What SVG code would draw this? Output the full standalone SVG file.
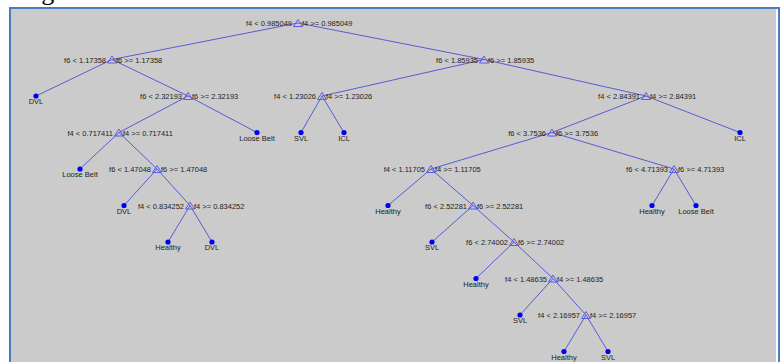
<svg xmlns="http://www.w3.org/2000/svg" width="780" height="362" viewBox="0 0 780 362">
<style>
.bg{fill:#ffffff}
.panel{fill:#cbcbcb}
.frame{stroke:#4a7ebb;stroke-width:2;fill:none}
.edge{stroke:#5a5ad8;stroke-width:1;fill:none}
.tri{fill:none;stroke:#5a5ae6;stroke-width:1}
.leaf{fill:#0000f0}
text{font-family:"Liberation Sans",Arial,sans-serif;font-size:7.5px;fill:#1e1e1e}
.l{text-anchor:end}
.c{text-anchor:middle}
.title{font-family:"Liberation Serif","Times New Roman",serif;font-size:26px;fill:#000}
</style>
<defs>
<path id="t" d="M-4.5,3.5 L0,-3.5 L4.5,3.5 Z"/>
</defs>
<rect class="bg" x="0" y="0" width="780" height="362"/>
<text class="title" x="21" y="-0.5">higher?</text>
<rect class="panel" x="11" y="9" width="765" height="353"/>
<path class="frame" d="M10,362 V8 H779 V362"/>
<g id="connectors">
<line class="edge" x1="298" y1="23" x2="112" y2="59.5"/>
<line class="edge" x1="298" y1="23" x2="484" y2="59.5"/>
<line class="edge" x1="112" y1="59.5" x2="36" y2="96"/>
<line class="edge" x1="112" y1="59.5" x2="188" y2="96"/>
<line class="edge" x1="188" y1="96" x2="119" y2="132.5"/>
<line class="edge" x1="188" y1="96" x2="257" y2="132.5"/>
<line class="edge" x1="484" y1="59.5" x2="322" y2="96"/>
<line class="edge" x1="484" y1="59.5" x2="646" y2="96"/>
<line class="edge" x1="322" y1="96" x2="301" y2="132.5"/>
<line class="edge" x1="322" y1="96" x2="344" y2="132.5"/>
<line class="edge" x1="646" y1="96" x2="552" y2="132.5"/>
<line class="edge" x1="646" y1="96" x2="740" y2="132.5"/>
<line class="edge" x1="119" y1="132.5" x2="80" y2="169"/>
<line class="edge" x1="119" y1="132.5" x2="157" y2="169"/>
<line class="edge" x1="157" y1="169" x2="124" y2="205.5"/>
<line class="edge" x1="157" y1="169" x2="190" y2="205.5"/>
<line class="edge" x1="190" y1="205.5" x2="168" y2="242"/>
<line class="edge" x1="190" y1="205.5" x2="212" y2="242"/>
<line class="edge" x1="552" y1="132.5" x2="431" y2="169"/>
<line class="edge" x1="552" y1="132.5" x2="674" y2="169"/>
<line class="edge" x1="431" y1="169" x2="388" y2="205.5"/>
<line class="edge" x1="431" y1="169" x2="473" y2="205.5"/>
<line class="edge" x1="473" y1="205.5" x2="432" y2="242"/>
<line class="edge" x1="473" y1="205.5" x2="514" y2="242"/>
<line class="edge" x1="514" y1="242" x2="476" y2="278.5"/>
<line class="edge" x1="514" y1="242" x2="553" y2="278.5"/>
<line class="edge" x1="553" y1="278.5" x2="520" y2="315"/>
<line class="edge" x1="553" y1="278.5" x2="586" y2="315"/>
<line class="edge" x1="586" y1="315" x2="564" y2="351.5"/>
<line class="edge" x1="586" y1="315" x2="608" y2="351.5"/>
<line class="edge" x1="674" y1="169" x2="652" y2="205.5"/>
<line class="edge" x1="674" y1="169" x2="696" y2="205.5"/>
</g>
<g id="n1" transform="translate(298,23)"><use href="#t" class="tri"/><text class="l" x="-6" y="3">f4 &lt; 0.985049</text><text x="4" y="3">f4 &gt;= 0.985049</text></g>
<g id="n2" transform="translate(112,59.5)"><use href="#t" class="tri"/><text class="l" x="-6" y="3">f6 &lt; 1.17358</text><text x="4" y="3">f6 &gt;= 1.17358</text></g>
<g id="n3" transform="translate(484,59.5)"><use href="#t" class="tri"/><text class="l" x="-6" y="3">f6 &lt; 1.85935</text><text x="4" y="3">f6 &gt;= 1.85935</text></g>
<g id="n4" transform="translate(188,96)"><use href="#t" class="tri"/><text class="l" x="-6" y="3">f6 &lt; 2.32193</text><text x="4" y="3">f6 &gt;= 2.32193</text></g>
<g id="n5" transform="translate(322,96)"><use href="#t" class="tri"/><text class="l" x="-6" y="3">f4 &lt; 1.23026</text><text x="4" y="3">f4 &gt;= 1.23026</text></g>
<g id="n6" transform="translate(646,96)"><use href="#t" class="tri"/><text class="l" x="-6" y="3">f4 &lt; 2.84391</text><text x="4" y="3">f4 &gt;= 2.84391</text></g>
<g id="n7" transform="translate(119,132.5)"><use href="#t" class="tri"/><text class="l" x="-6" y="3">f4 &lt; 0.717411</text><text x="4" y="3">f4 &gt;= 0.717411</text></g>
<g id="n8" transform="translate(552,132.5)"><use href="#t" class="tri"/><text class="l" x="-6" y="3">f6 &lt; 3.7536</text><text x="4" y="3">f6 &gt;= 3.7536</text></g>
<g id="n9" transform="translate(157,169)"><use href="#t" class="tri"/><text class="l" x="-6" y="3">f6 &lt; 1.47048</text><text x="4" y="3">f6 &gt;= 1.47048</text></g>
<g id="n10" transform="translate(431,169)"><use href="#t" class="tri"/><text class="l" x="-6" y="3">f4 &lt; 1.11705</text><text x="4" y="3">f4 &gt;= 1.11705</text></g>
<g id="n11" transform="translate(674,169)"><use href="#t" class="tri"/><text class="l" x="-6" y="3">f6 &lt; 4.71393</text><text x="4" y="3">f6 &gt;= 4.71393</text></g>
<g id="n12" transform="translate(190,205.5)"><use href="#t" class="tri"/><text class="l" x="-6" y="3">f4 &lt; 0.834252</text><text x="4" y="3">f4 &gt;= 0.834252</text></g>
<g id="n13" transform="translate(473,205.5)"><use href="#t" class="tri"/><text class="l" x="-6" y="3">f6 &lt; 2.52281</text><text x="4" y="3">f6 &gt;= 2.52281</text></g>
<g id="n14" transform="translate(514,242)"><use href="#t" class="tri"/><text class="l" x="-6" y="3">f6 &lt; 2.74002</text><text x="4" y="3">f6 &gt;= 2.74002</text></g>
<g id="n15" transform="translate(553,278.5)"><use href="#t" class="tri"/><text class="l" x="-6" y="3">f4 &lt; 1.48635</text><text x="4" y="3">f4 &gt;= 1.48635</text></g>
<g id="n16" transform="translate(586,315)"><use href="#t" class="tri"/><text class="l" x="-6" y="3">f4 &lt; 2.16957</text><text x="4" y="3">f4 &gt;= 2.16957</text></g>
<g id="leaf1" transform="translate(36,96)"><circle class="leaf" r="2.6"/><text class="c" y="8">DVL</text></g>
<g id="leaf2" transform="translate(257,132.5)"><circle class="leaf" r="2.6"/><text class="c" y="8">Loose Belt</text></g>
<g id="leaf3" transform="translate(301,132.5)"><circle class="leaf" r="2.6"/><text class="c" y="8">SVL</text></g>
<g id="leaf4" transform="translate(344,132.5)"><circle class="leaf" r="2.6"/><text class="c" y="8">ICL</text></g>
<g id="leaf5" transform="translate(740,132.5)"><circle class="leaf" r="2.6"/><text class="c" y="8">ICL</text></g>
<g id="leaf6" transform="translate(80,169)"><circle class="leaf" r="2.6"/><text class="c" y="8">Loose Belt</text></g>
<g id="leaf7" transform="translate(124,205.5)"><circle class="leaf" r="2.6"/><text class="c" y="8">DVL</text></g>
<g id="leaf8" transform="translate(388,205.5)"><circle class="leaf" r="2.6"/><text class="c" y="8">Healthy</text></g>
<g id="leaf9" transform="translate(652,205.5)"><circle class="leaf" r="2.6"/><text class="c" y="8">Healthy</text></g>
<g id="leaf10" transform="translate(696,205.5)"><circle class="leaf" r="2.6"/><text class="c" y="8">Loose Belt</text></g>
<g id="leaf11" transform="translate(168,242)"><circle class="leaf" r="2.6"/><text class="c" y="8">Healthy</text></g>
<g id="leaf12" transform="translate(212,242)"><circle class="leaf" r="2.6"/><text class="c" y="8">DVL</text></g>
<g id="leaf13" transform="translate(432,242)"><circle class="leaf" r="2.6"/><text class="c" y="8">SVL</text></g>
<g id="leaf14" transform="translate(476,278.5)"><circle class="leaf" r="2.6"/><text class="c" y="8">Healthy</text></g>
<g id="leaf15" transform="translate(520,315)"><circle class="leaf" r="2.6"/><text class="c" y="8">SVL</text></g>
<g id="leaf16" transform="translate(564,351.5)"><circle class="leaf" r="2.6"/><text class="c" y="8">Healthy</text></g>
<g id="leaf17" transform="translate(608,351.5)"><circle class="leaf" r="2.6"/><text class="c" y="8">SVL</text></g>
</svg>
